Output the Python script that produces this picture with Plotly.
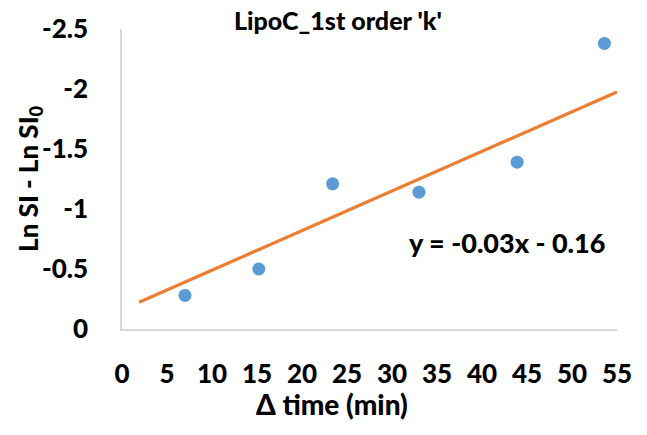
import plotly.graph_objects as go

# Elapsed time (min) and log signal-intensity change
time_min = [7.0, 15.2, 23.4, 33.0, 43.9, 53.6]
ln_ratio = [-0.28, -0.50, -1.21, -1.14, -1.39, -2.38]

# Linear trendline parameters and its extent along x
slope = -0.033
intercept = -0.16
trend_x = [1.9, 55.0]
trend_y = [slope * x + intercept for x in trend_x]

x_ticks = list(range(0, 60, 5))
y_ticks = [0, -0.5, -1, -1.5, -2, -2.5]
y_tick_text = ["0", "-0.5", "-1", "-1.5", "-2", "-2.5"]

title_text = "LipoC_1st order 'k'"
x_title = "Δ time (min)"
y_title = "Ln SI - Ln SI<sub>0</sub>"
eq_text = "y = -0.03x - 0.16"

FONT = "Lato"
WEIGHT = 900
BLUE = "#5B9BD5"
ORANGE = "#ED7D31"

fig = go.Figure()
fig.add_trace(go.Scatter(
    x=time_min, y=ln_ratio, mode="markers",
    marker=dict(color=BLUE, size=13, line=dict(width=0)),
    showlegend=False,
))
fig.add_trace(go.Scatter(
    x=trend_x, y=trend_y, mode="lines",
    line=dict(color=ORANGE, width=3.2),
    showlegend=False,
))

fig.update_layout(
    width=647, height=435,
    margin=dict(l=122, r=30, t=27, b=106),
    paper_bgcolor="white", plot_bgcolor="white",
    font=dict(family=FONT, color="black", size=26, weight=WEIGHT),
    xaxis=dict(
        range=[0, 55], tickvals=x_ticks, showgrid=False, zeroline=False,
        showline=True, linecolor="#D9D9D9", linewidth=1.5,
        ticks="", ticklabelstandoff=21,
        tickfont=dict(family=FONT, size=26, weight=WEIGHT),
    ),
    yaxis=dict(
        range=[0, -2.5], tickvals=y_ticks, ticktext=y_tick_text,
        showgrid=False, zeroline=False,
        showline=True, linecolor="#D9D9D9", linewidth=1.5,
        ticks="", ticklabelstandoff=27,
        tickfont=dict(family=FONT, size=26, weight=WEIGHT),
    ),
    annotations=[
        dict(text=title_text, xref="paper", yref="paper",
             x=0.437, y=1.03, xanchor="center", yanchor="middle",
             showarrow=False, font=dict(family=FONT, size=25, weight=WEIGHT)),
        dict(text=x_title, xref="paper", yref="paper",
             x=0.424, y=-0.25, xanchor="center", yanchor="middle",
             showarrow=False, font=dict(family=FONT, size=28, weight=WEIGHT)),
        dict(text=y_title, xref="paper", yref="paper",
             x=-0.188, y=0.5, xanchor="center", yanchor="middle",
             textangle=-90, showarrow=False,
             font=dict(family=FONT, size=26, weight=WEIGHT)),
        dict(text=eq_text, xref="x", yref="y",
             x=42.8, y=-0.72, xanchor="center", yanchor="middle",
             showarrow=False, font=dict(family=FONT, size=27, weight=WEIGHT)),
    ],
)

fig.write_html("out.html")
